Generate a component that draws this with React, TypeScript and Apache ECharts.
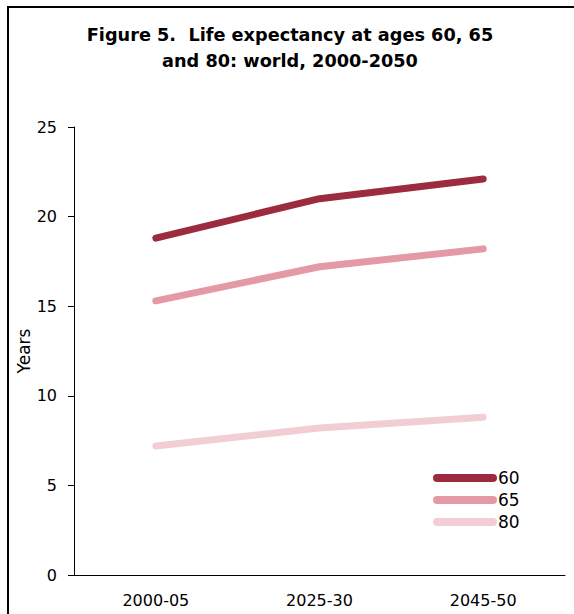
import React, { useEffect, useRef } from "react";
import * as echarts from "echarts";

const categories = ["2000-05", "2025-30", "2045-50"];
const age60 = [18.8, 21.0, 22.1];
const age65 = [15.3, 17.2, 18.2];
const age80 = [7.2, 8.2, 8.8];
const seriesNames = ["60", "65", "80"];
const colors = ["#9c2b3f", "#e39aa6", "#f2ced4"];

const FONT = "'DejaVu Sans', Arial, sans-serif";

export default function App() {
  const ref = useRef<HTMLDivElement>(null);
  useEffect(() => {
    document.body.style.margin = "0";
    const chart = echarts.init(ref.current!, null, { renderer: "svg" });
    const iconPath = "path://M4,0 H60 A4,4 0 0 1 60,8 H4 A4,4 0 0 1 4,0 Z";
    const data = [age60, age65, age80];
    chart.setOption({
      animation: false,
      backgroundColor: "#ffffff",
      textStyle: { fontFamily: FONT },
      title: {
        text: "Figure 5.  Life expectancy at ages 60, 65\nand 80: world, 2000-2050",
        left: 285,
        textAlign: "center",
        top: 17,
        textStyle: {
          fontFamily: FONT,
          fontSize: 17.7,
          fontWeight: "bold",
          color: "#000",
          lineHeight: 26,
          align: "center",
        },
      },
      legend: {
        orient: "vertical",
        left: 433,
        top: 467,
        padding: 0,
        itemWidth: 64,
        itemHeight: 8,
        itemGap: 0,
        icon: iconPath,
        data: seriesNames,
        textStyle: {
          fontFamily: FONT,
          fontSize: 17,
          color: "#000",
          lineHeight: 12,
          padding: [10, 0, 0, -4],
        },
      },
      grid: { left: 74, right: 9, top: 127, bottom: 39, containLabel: false },
      xAxis: {
        type: "category",
        data: categories,
        boundaryGap: true,
        axisLine: { lineStyle: { color: "#000", width: 1 } },
        axisTick: { show: false },
        axisLabel: { color: "#000", fontSize: 16, margin: 17, fontFamily: FONT },
      },
      yAxis: {
        type: "value",
        min: 0,
        max: 25,
        interval: 5,
        name: "Years",
        nameLocation: "middle",
        nameRotate: 90,
        nameGap: 42,
        nameMoveOverlap: false,
        nameTextStyle: { color: "#000", fontSize: 17, fontFamily: FONT },
        axisLine: { show: true, lineStyle: { color: "#000", width: 1 } },
        axisTick: { show: true, length: 6, lineStyle: { color: "#000" } },
        axisLabel: { color: "#000", fontSize: 16, margin: 17, fontFamily: FONT },
        splitLine: { show: false },
      },
      series: seriesNames.map((name, i) => ({
        name,
        type: "line",
        data: data[i],
        symbol: "none",
        color: colors[i],
        lineStyle: { width: 7, color: colors[i], cap: "round", join: "round" },
      })),
      graphic: [
        {
          type: "rect",
          shape: { x: 8, y: 7, width: 620, height: 700 },
          style: { fill: "none", stroke: "#000", lineWidth: 2 },
          silent: true,
        },
      ],
    });
    return () => chart.dispose();
  }, []);
  return <div ref={ref} style={{ width: 574, height: 614 }} />;
}
